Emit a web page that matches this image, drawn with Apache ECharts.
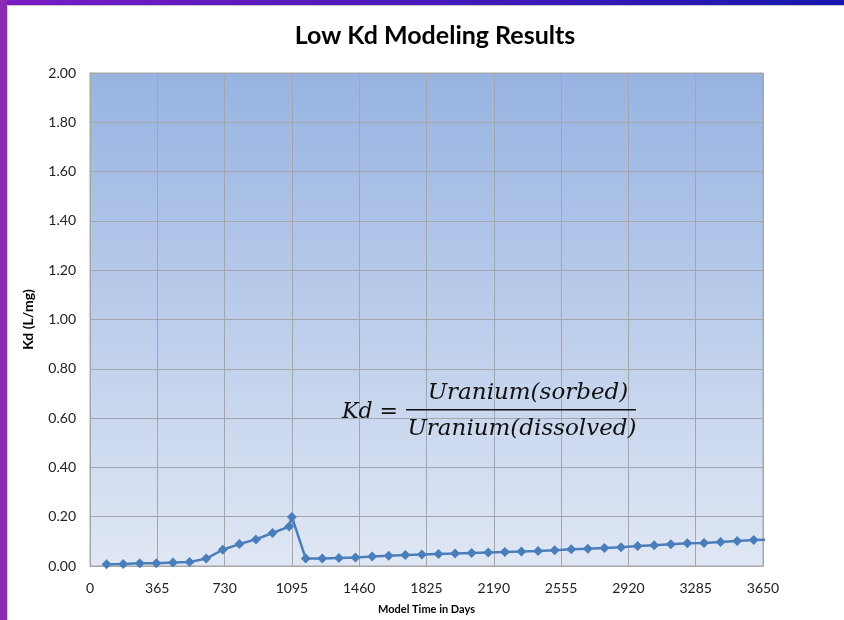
<!DOCTYPE html>
<html>
<head>
<meta charset="utf-8">
<title>Low Kd Modeling Results</title>
<script src="https://cdn.jsdelivr.net/npm/echarts@6/dist/echarts.min.js"></script>
<style>
  html, body { margin: 0; padding: 0; background: #fff; }
  #chart { width: 844px; height: 620px; }
</style>
</head>
<body>
<div id="chart"></div>
<script>
// model time (days) and Kd (L/mg)
var days = [90, 180, 270, 360, 450, 540, 630, 720, 810, 900, 990, 1080, 1095,
  1170, 1260, 1350, 1440, 1530, 1620, 1710, 1800, 1890, 1980, 2070, 2160, 2250,
  2340, 2430, 2520, 2610, 2700, 2790, 2880, 2970, 3060, 3150, 3240, 3330, 3420,
  3510, 3600, 3690]
var kd = [0.007, 0.008, 0.011, 0.011, 0.014, 0.016, 0.030, 0.066, 0.089, 0.108,
  0.134, 0.160, 0.199,
  0.030, 0.030, 0.032, 0.034, 0.039, 0.042, 0.045, 0.047, 0.049, 0.051, 0.053,
  0.055, 0.057, 0.059, 0.061, 0.064, 0.068, 0.070, 0.073, 0.076, 0.081, 0.084,
  0.088, 0.092, 0.093, 0.097, 0.101, 0.105, 0.107]

var seriesData = days.map(function (d, i) { return [d, kd[i]] })

var chart = echarts.init(document.getElementById('chart'))
var font = 'Lato, "Open Sans", sans-serif'
var mathFont = '"DejaVu Serif", "Liberation Serif", serif'

var option = {
  animation: false,
  backgroundColor: '#fff',
  title: {
    text: 'Low Kd Modeling Results',
    left: 430,
    textAlign: 'center',
    top: 18,
    textStyle: { fontFamily: font, fontWeight: 'bold', fontSize: 25, color: '#000' }
  },
  grid: {
    left: 90,
    right: 81,
    top: 73,
    bottom: 54,
    show: true,
    borderColor: '#a6a6a6',
    borderWidth: 1,
    backgroundColor: {
      type: 'linear', x: 0, y: 0, x2: 0, y2: 1,
      colorStops: [
        { offset: 0, color: '#97b3e2' },
        { offset: 1, color: '#e0e7f4' }
      ]
    }
  },
  xAxis: {
    type: 'value',
    min: 0,
    max: 3650,
    interval: 365,
    name: 'Model Time in Days',
    nameLocation: 'middle',
    nameGap: 38,
    nameTextStyle: { fontFamily: font, fontWeight: 'bold', fontSize: 11, color: '#000' },
    axisLine: { show: true, lineStyle: { color: '#a6a6a6' } },
    axisTick: { show: false },
    axisLabel: {
      margin: 15,
      fontFamily: font,
      fontSize: 14,
      color: '#222',
      formatter: function (v) { return String(v) }
    },
    splitLine: { show: true, lineStyle: { color: '#a3a6ad', width: 1 } }
  },
  yAxis: {
    type: 'value',
    min: 0,
    max: 2,
    interval: 0.2,
    name: 'Kd (L/mg)',
    nameLocation: 'middle',
    nameGap: 55,
    nameTextStyle: { fontFamily: font, fontWeight: 'bold', fontSize: 14, color: '#000' },
    axisLine: { show: true, lineStyle: { color: '#a6a6a6' } },
    axisTick: { show: false },
    axisLabel: {
      margin: 14,
      fontFamily: font,
      fontSize: 14,
      color: '#222',
      formatter: function (v) { return v.toFixed(2) }
    },
    splitLine: { show: true, lineStyle: { color: '#a3a6ad', width: 1 } }
  },
  series: [
    {
      type: 'line',
      data: seriesData,
      clip: true,
      symbol: 'diamond',
      symbolSize: 10,
      lineStyle: { color: '#4a7ebb', width: 2.5 },
      itemStyle: { color: '#4a7ebb' }
    }
  ],
  graphic: [
    // slide frame: purple strip on the left, gradient bar on top
    {
      type: 'rect', left: 0, top: 0, z: 100,
      shape: { width: 844, height: 5 },
      style: {
        fill: new echarts.graphic.LinearGradient(0, 0, 1, 0, [
          { offset: 0, color: '#7a1cc4' },
          { offset: 1, color: '#1616b0' }
        ])
      }
    },
    {
      type: 'rect', left: 0, top: 5, z: 100,
      shape: { width: 844, height: 1 },
      style: { fill: '#c4c4cc' }
    },
    {
      type: 'rect', left: 0, top: 0, z: 101,
      shape: { width: 7, height: 620 },
      style: { fill: '#8a2cb4' }
    },
    {
      type: 'rect', left: 7, top: 5, z: 100,
      shape: { width: 1, height: 615 },
      style: { fill: '#d8d0e0' }
    },
    // Kd formula
    {
      type: 'text', z: 50,
      style: { x: 370, y: 412, text: 'Kd =', align: 'center', verticalAlign: 'middle',
        font: 'italic 22px ' + mathFont, fill: '#111' }
    },
    {
      type: 'text', z: 50,
      style: { x: 528, y: 393, text: 'Uranium(sorbed)', align: 'center', verticalAlign: 'middle',
        font: 'italic 23px ' + mathFont, fill: '#111' }
    },
    {
      type: 'rect', left: 406, top: 409, z: 50,
      shape: { width: 230, height: 1.5 },
      style: { fill: '#111' }
    },
    {
      type: 'text', z: 50,
      style: { x: 522, y: 429, text: 'Uranium(dissolved)', align: 'center', verticalAlign: 'middle',
        font: 'italic 23px ' + mathFont, fill: '#111' }
    }
  ]
}

chart.setOption(option)
</script>
</body>
</html>
